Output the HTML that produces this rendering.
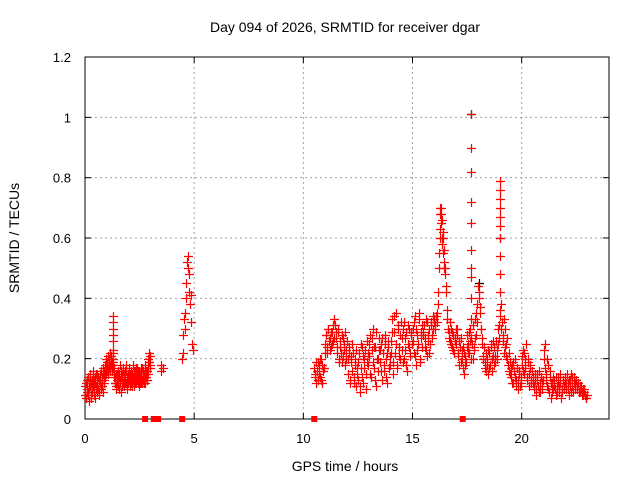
<!DOCTYPE html>
<html><head><meta charset="utf-8"><style>
html,body{margin:0;padding:0;background:#fff;}
svg{display:block;font-family:"Liberation Sans",sans-serif;}
</style></head><body>
<svg id="chart" width="640" height="480">
<text x="345" y="32" text-anchor="middle" font-size="14">Day 094 of 2026, SRMTID for receiver dgar</text>
<text x="345" y="471" text-anchor="middle" font-size="14">GPS time / hours</text>
<text transform="translate(19,238) rotate(-90)" text-anchor="middle" font-size="14">SRMTID / TECUs</text>
<g id="grid"></g><g id="axes"></g><g id="marks"></g>
</svg>
<script>
const xTicks=[0,5,10,15,20];
const yTicks=[0,0.2,0.4,0.6,0.8,1,1.2];
const yTickLabels=["0","0.2","0.4","0.6","0.8","1","1.2"];
const segAStart=0.0, segAStep=0.03;
const segA=[0.08,0.12,0.07,0.10,0.14,0.09,0.06,0.11,0.15,0.08,
0.13,0.10,0.16,0.09,0.12,0.07,0.14,0.11,0.09,0.15,
0.10,0.13,0.08,0.12,0.16,0.11,0.14,0.09,0.17,0.13,
0.18,0.15,0.20,0.16,0.19,0.21,0.17,0.20,0.22,0.18,
0.21,0.19,0.23,0.20,0.17,0.14,0.12,0.15,0.10,0.13,
0.16,0.11,0.14,0.18,0.12,0.09,0.15,0.13,0.17,0.11,
0.14,0.16,0.12,0.18,0.10,0.15,0.13,0.17,0.11,0.14,
0.16,0.12,0.15,0.18,0.13,0.11,0.16,0.14,0.12,0.17,
0.15,0.13,0.11,0.16,0.14,0.12,0.15,0.17,0.13,0.14,
0.12,0.15,0.18,0.14,0.16,0.13,0.20,0.22,0.19,0.17];
const segA2Start=0.015, segA2Step=0.03;
const segA2=[0.11,0.07,0.13,0.09,0.08,0.12,0.10,0.14,0.07,0.12,
0.09,0.14,0.11,0.13,0.08,0.12,0.10,0.15,0.12,0.10,
0.14,0.09,0.12,0.15,0.10,0.13,0.11,0.15,0.12,0.16,
0.14,0.17,0.15,0.19,0.17,0.15,0.19,0.18,0.16,0.20,
0.18,0.16,0.19,0.17,0.15,0.12,0.14,0.11,0.15,0.12,
0.13,0.15,0.10,0.13,0.16,0.14,0.11,0.16,0.12,0.15,
0.12,0.13,0.16,0.11,0.14,0.12,0.16,0.13,0.15,0.12,
0.13,0.15,0.11,0.14,0.16,0.14,0.12,0.15,0.17,0.13,
0.12,0.16,0.14,0.12,0.15,0.17,0.13,0.12,0.16,0.15,
0.14,0.12,0.15,0.16,0.13,0.15,0.17,0.19,0.21,0.18];
const segBTimes=[3.5,3.5,3.55];
const segBVals=[0.18,0.16,0.17];
const segCStart=4.45, segCStep=0.028;
const segC=[0.2,0.22,0.28,0.33,0.35,0.3,0.4,0.45,0.52,0.54,0.5,0.48,0.42,0.38,0.41,0.32,0.25,0.23];
const segDStart=10.5, segDStep=0.05;
const segD=[0.17,0.14,0.12,0.19,0.15,0.2,0.13,0.18,0.16,0.17,
0.25,0.28,0.22,0.3,0.27,0.24,0.29,0.26,0.33,0.31,
0.27,0.22,0.29,0.19,0.24,0.28,0.21,0.25,0.18,0.23,
0.26,0.15,0.22,0.12,0.19,0.25,0.14,0.2,0.11,0.17,
0.13,0.22,0.09,0.17,0.24,0.12,0.2,0.15,0.26,0.18,
0.21,0.28,0.14,0.23,0.3,0.17,0.24,0.11,0.2,0.27,
0.19,0.25,0.13,0.22,0.16,0.28,0.2,0.12,0.24,0.18,
0.26,0.33,0.15,0.29,0.22,0.35,0.18,0.31,0.24,0.2,
0.27,0.19,0.32,0.23,0.29,0.16,0.25,0.3,0.21,0.28,
0.3,0.22,0.34,0.18,0.28,0.25,0.35,0.2,0.27,0.31,
0.29,0.24,0.33,0.21,0.28,0.3,0.25,0.32,0.27,0.34,
0.33,0.31,0.35,0.42,0.55,0.63,0.7,0.66,0.6,0.52,
0.48,0.42,0.33,0.29,0.26,0.3,0.24,0.28,0.22,0.27,
0.25,0.3,0.22,0.18,0.27,0.2,0.24,0.15,0.21,0.19,
0.28,0.25,0.22,0.3,0.27,0.2,0.24,0.33,0.28,0.38,
0.44,0.42,0.35,0.3,0.25,0.2,0.17,0.22,0.18,0.15,
0.22,0.18,0.25,0.16,0.21,0.24,0.19,0.23,0.3,0.27,
0.36,0.38,0.32,0.28,0.22,0.3,0.25,0.2,0.16,0.19,
0.14,0.18,0.12,0.16,0.2,0.13,0.17,0.1,0.15,0.12,
0.18,0.23,0.15,0.2,0.25,0.14,0.19,0.11,0.17,0.13,
0.12,0.1,0.15,0.08,0.13,0.11,0.16,0.09,0.14,0.12,
0.2,0.25,0.15,0.11,0.18,0.09,0.14,0.07,0.12,0.1,
0.13,0.08,0.11,0.14,0.09,0.12,0.07,0.1,0.13,0.11,
0.14,0.1,0.12,0.08,0.13,0.15,0.11,0.09,0.14,0.12,
0.13,0.1,0.12,0.09,0.11,0.08,0.1,0.09,0.08,0.07];
const segD2Start=10.525, segD2Step=0.05;
const segD2=[0.15,0.19,0.16,0.13,0.18,0.14,0.2,0.12,0.17,0.22,
0.28,0.24,0.3,0.26,0.23,0.29,0.25,0.31,0.27,0.29,
0.24,0.3,0.2,0.26,0.22,0.19,0.27,0.23,0.29,0.2,
0.2,0.24,0.13,0.21,0.16,0.22,0.12,0.18,0.23,0.15,
0.19,0.11,0.25,0.14,0.21,0.17,0.23,0.1,0.19,0.22,
0.25,0.15,0.27,0.19,0.24,0.13,0.29,0.2,0.16,0.23,
0.23,0.16,0.27,0.18,0.25,0.14,0.22,0.26,0.17,0.21,
0.22,0.29,0.19,0.34,0.25,0.17,0.3,0.21,0.28,0.32,
0.23,0.3,0.2,0.27,0.18,0.31,0.24,0.22,0.29,0.25,
0.26,0.32,0.21,0.3,0.23,0.33,0.19,0.29,0.24,0.28,
0.31,0.27,0.23,0.32,0.26,0.22,0.31,0.28,0.3,0.32,
0.3,0.34,0.32,0.38,0.5,0.6,0.68,0.62,0.56,0.5,
0.44,0.36,0.3,0.27,0.32,0.25,0.29,0.23,0.26,0.3,
0.28,0.21,0.26,0.24,0.19,0.23,0.17,0.22,0.18,0.24,
0.22,0.29,0.26,0.2,0.25,0.31,0.23,0.27,0.35,0.32,
0.4,0.37,0.3,0.27,0.21,0.24,0.19,0.16,0.2,0.23,
0.17,0.24,0.2,0.26,0.18,0.21,0.26,0.2,0.25,0.31,
0.34,0.3,0.26,0.33,0.24,0.21,0.27,0.18,0.22,0.15,
0.17,0.12,0.19,0.14,0.11,0.17,0.13,0.16,0.11,0.14,
0.21,0.16,0.22,0.17,0.13,0.2,0.15,0.18,0.12,0.16,
0.14,0.11,0.13,0.1,0.15,0.09,0.12,0.14,0.1,0.13,
0.23,0.17,0.13,0.2,0.1,0.16,0.12,0.09,0.14,0.11,
0.1,0.14,0.09,0.12,0.11,0.15,0.09,0.13,0.1,0.12,
0.12,0.15,0.1,0.13,0.11,0.09,0.14,0.12,0.1,0.13,
0.11,0.12,0.09,0.11,0.1,0.09,0.08,0.1,0.07,0.08];
const spikeTimes=[1.28,1.28,1.29,1.29,1.3,1.3,16.25,16.28,16.3,16.33,16.36,16.4,16.45,17.67,17.67,17.68,17.68,17.68,17.69,17.69,17.7,17.7,17.7,18.99,18.99,19.0,19.0,19.0,19.01,19.01,19.02,19.02,19.03];
const spikeVals=[0.34,0.32,0.3,0.28,0.26,0.22,0.7,0.68,0.65,0.6,0.58,0.55,0.5,1.01,0.9,0.82,0.72,0.65,0.56,0.5,0.47,0.4,0.33,0.79,0.76,0.73,0.7,0.67,0.64,0.6,0.54,0.48,0.42];
const blackTimes=[17.67,18.05,19.0];
const blackVals=[1.01,0.45,0.6];
const zeroTimes=[2.75,3.15,3.35,4.45,10.5,17.3];

const X0=85,X1=609,Y0=419,Y1=57,XMAX=24,YMAX=1.2;
const xs=v=>X0+(X1-X0)*v/XMAX;
const ys=v=>Y0-(Y0-Y1)*v/YMAX;
const NS="http://www.w3.org/2000/svg";
function mk(tag,attrs,parent){const e=document.createElementNS(NS,tag);for(const k in attrs)e.setAttribute(k,attrs[k]);parent.appendChild(e);return e;}
const grid=document.getElementById('grid'),axes=document.getElementById('axes'),marks=document.getElementById('marks');
xTicks.forEach((t,i)=>{
  const x=xs(t);
  if(t>0){const g=mk('line',{x1:x,x2:x,y1:Y0,y2:Y1,stroke:'#a0a0a0','stroke-dasharray':'2,3'},grid);
  
  }
  mk('line',{x1:x,x2:x,y1:Y0,y2:Y0-6,stroke:'#000'},axes);
  mk('line',{x1:x,x2:x,y1:Y1,y2:Y1+6,stroke:'#000'},axes);
  const l=mk('text',{x:x,y:443,'text-anchor':'middle','font-size':13},axes);
  l.textContent=String(t);
  
  
});
yTicks.forEach((t,i)=>{
  const y=ys(t);
  if(t>0&&t<1.2){const g=mk('line',{x1:X0,x2:X1,y1:y,y2:y,stroke:'#a0a0a0','stroke-dasharray':'2,3'},grid);
  
  }
  mk('line',{x1:X0,x2:X0+6,y1:y,y2:y,stroke:'#000'},axes);
  mk('line',{x1:X1,x2:X1-6,y1:y,y2:y,stroke:'#000'},axes);
  const l=mk('text',{x:71,y:y+5,'text-anchor':'end','font-size':13},axes);
  l.textContent=yTickLabels[i];
  
  
});
const frame=mk('rect',{x:X0,y:Y1,width:X1-X0,height:Y0-Y1,fill:'none',stroke:'#000'},axes);


function plus(t,v,color){
  const x=Math.round(xs(t))+0.5,y=Math.round(ys(v))+0.5;
  const p=mk('path',{d:`M${x-4.5} ${y}H${x+4.5}M${x} ${y-4.5}V${y+4.5}`,stroke:color,'stroke-width':1.2,fill:'none'},marks);
  
  
}
blackTimes.forEach((t,i)=>plus(t,blackVals[i],'#000'));
segA.forEach((v,i)=>plus(segAStart+i*segAStep,v,'#f00'));
segA2.forEach((v,i)=>plus(segA2Start+i*segA2Step,v,'#f00'));
segBTimes.forEach((t,i)=>plus(t,segBVals[i],'#f00'));
segC.forEach((v,i)=>plus(segCStart+i*segCStep,v,'#f00'));
segD.forEach((v,i)=>plus(segDStart+i*segDStep,v,'#f00'));
segD2.forEach((v,i)=>plus(segD2Start+i*segD2Step,v,'#f00'));
spikeTimes.forEach((t,i)=>plus(t,spikeVals[i],'#f00'));
zeroTimes.forEach(t=>{
  const r=mk('rect',{x:xs(t)-3,y:Y0-3,width:6,height:6,fill:'#f00'},marks);
  
  
});
</script>
</body></html>
